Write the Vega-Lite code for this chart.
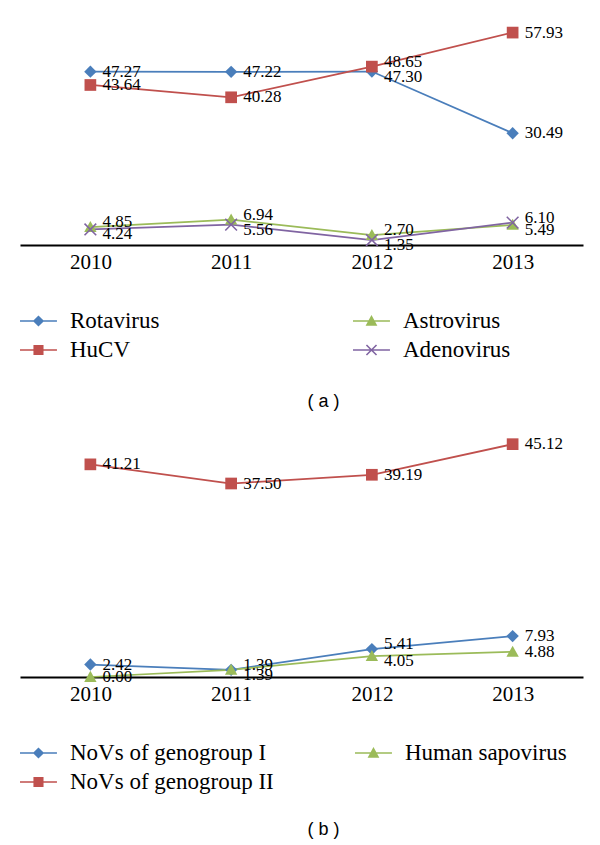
{
  "$schema": "https://vega.github.io/schema/vega-lite/v6.json",
  "background": "white",
  "padding": {"left": 20, "top": 23, "right": 17, "bottom": 0},
  "spacing": 8,
  "config": {
    "view": {"stroke": null},
    "font": "Liberation Serif",
    "axis": {"domainColor": "black", "domainWidth": 1.8, "ticks": false, "grid": false, "labelFont": "Liberation Serif", "labelFontSize": 21, "labelColor": "black", "labelPadding": 6, "labelAngle": 0, "title": null},
    "legend": {"title": null, "orient": "bottom", "columns": 2, "symbolSize": 784, "symbolOpacity": 1, "symbolStrokeWidth": 0, "labelFont": "Liberation Serif", "labelFontSize": 23, "labelColor": "black", "labelOffset": 22, "labelLimit": 300, "rowPadding": 3, "offset": 35},
    "title": {"orient": "bottom", "anchor": "middle", "font": "Liberation Sans", "fontSize": 18, "fontWeight": "normal", "color": "black", "dx": 22}
  },
  "datasets": {
    "a": [
      {"year": "2010", "series": "Rotavirus", "value": 47.27},
      {"year": "2011", "series": "Rotavirus", "value": 47.22},
      {"year": "2012", "series": "Rotavirus", "value": 47.30},
      {"year": "2013", "series": "Rotavirus", "value": 30.49},
      {"year": "2010", "series": "HuCV", "value": 43.64},
      {"year": "2011", "series": "HuCV", "value": 40.28},
      {"year": "2012", "series": "HuCV", "value": 48.65},
      {"year": "2013", "series": "HuCV", "value": 57.93},
      {"year": "2010", "series": "Astrovirus", "value": 4.85},
      {"year": "2011", "series": "Astrovirus", "value": 6.94},
      {"year": "2012", "series": "Astrovirus", "value": 2.70},
      {"year": "2013", "series": "Astrovirus", "value": 5.49},
      {"year": "2010", "series": "Adenovirus", "value": 4.24},
      {"year": "2011", "series": "Adenovirus", "value": 5.56},
      {"year": "2012", "series": "Adenovirus", "value": 1.35},
      {"year": "2013", "series": "Adenovirus", "value": 6.10}
    ],
    "b": [
      {"year": "2010", "group": "NoVs of genogroup I", "value": 2.42},
      {"year": "2011", "group": "NoVs of genogroup I", "value": 1.39},
      {"year": "2012", "group": "NoVs of genogroup I", "value": 5.41},
      {"year": "2013", "group": "NoVs of genogroup I", "value": 7.93},
      {"year": "2010", "group": "NoVs of genogroup II", "value": 41.21},
      {"year": "2011", "group": "NoVs of genogroup II", "value": 37.50},
      {"year": "2012", "group": "NoVs of genogroup II", "value": 39.19},
      {"year": "2013", "group": "NoVs of genogroup II", "value": 45.12},
      {"year": "2010", "group": "Human sapovirus", "value": 0.00},
      {"year": "2011", "group": "Human sapovirus", "value": 1.39},
      {"year": "2012", "group": "Human sapovirus", "value": 4.05},
      {"year": "2013", "group": "Human sapovirus", "value": 4.88}
    ]
  },
  "resolve": {"scale": {"color": "independent", "shape": "independent", "x": "independent", "y": "independent"}, "legend": {"color": "independent", "shape": "independent"}},
  "vconcat": [
    {
      "width": 563,
      "height": 220,
      "data": {"name": "a"},
      "title": {"text": "( a )", "offset": 31},
      "encoding": {
        "x": {"field": "year", "type": "ordinal", "scale": {"type": "point", "padding": 0.5}},
        "y": {"field": "value", "type": "quantitative", "scale": {"domain": [0, 60]}, "axis": null}
      },
      "layer": [
        {"transform": [{"filter": "datum.series === 'Rotavirus'"}], "mark": {"type": "line", "strokeWidth": 1.75, "color": "#4a7ebb"}},
        {"transform": [{"filter": "datum.series === 'HuCV'"}], "mark": {"type": "line", "strokeWidth": 1.75, "color": "#c0504d"}},
        {"transform": [{"filter": "datum.series === 'Astrovirus'"}], "mark": {"type": "line", "strokeWidth": 1.75, "color": "#9bbb59"}},
        {"transform": [{"filter": "datum.series === 'Adenovirus'"}], "mark": {"type": "line", "strokeWidth": 1.75, "color": "#8064a2"}},
        {
          "mark": {"type": "point", "filled": true, "opacity": 0, "size": 784},
          "encoding": {
            "color": {"field": "series", "type": "nominal", "scale": {"domain": ["Rotavirus", "Astrovirus", "HuCV", "Adenovirus"], "range": ["#4a7ebb", "#9bbb59", "#c0504d", "#8064a2"]}, "legend": {"columnPadding": 193}},
            "shape": {"field": "series", "type": "nominal", "scale": {"domain": ["Rotavirus", "Astrovirus", "HuCV", "Adenovirus"], "range": [
              "M-1,-0.06H1.64V0.06H-1ZM0.32,-0.4L0.72,0L0.32,0.4L-0.08,0Z",
              "M-1,-0.06H1.64V0.06H-1ZM0.32,-0.42L0.74,0.34H-0.1Z",
              "M-1,-0.06H1.64V0.06H-1ZM-0.04,-0.36H0.68V0.36H-0.04Z",
              "M-1,-0.06H1.64V0.06H-1ZM0,-0.4L0.72,0.32L0.64,0.4L-0.08,-0.32ZM0.72,-0.32L0,0.4L-0.08,0.32L0.64,-0.4Z"
            ]}, "legend": {"columnPadding": 193}}
          }
        },
        {
          "transform": [{"filter": "datum.series === 'Rotavirus'"}],
          "mark": {"type": "point", "filled": true, "size": 169, "opacity": 1, "color": "#4a7ebb", "shape": "M0,-0.95L0.95,0L0,0.95L-0.95,0Z"}
        },
        {
          "transform": [{"filter": "datum.series === 'HuCV'"}],
          "mark": {"type": "point", "filled": true, "size": 169, "opacity": 1, "color": "#c0504d", "shape": "M-0.9,-0.9H0.9V0.9H-0.9Z"}
        },
        {
          "transform": [{"filter": "datum.series === 'Astrovirus'"}],
          "mark": {"type": "point", "filled": true, "size": 169, "opacity": 1, "color": "#9bbb59", "shape": "M0,-0.95L0.95,0.75H-0.95Z"}
        },
        {
          "transform": [{"filter": "datum.series === 'Adenovirus'"}],
          "mark": {"type": "point", "filled": true, "size": 169, "opacity": 1, "color": "#8064a2", "shape": "M-0.815,-0.985L0.985,0.815L0.815,0.985L-0.985,-0.815ZM0.985,-0.815L-0.815,0.985L-0.985,0.815L0.815,-0.985Z"}
        },
        {
          "transform": [{"filter": "(datum.series === 'Astrovirus' && datum.year !== '2013') || (datum.series === 'Adenovirus' && datum.year === '2013') || (datum.series === 'HuCV' && datum.year === '2012')"}],
          "mark": {"type": "text", "align": "left", "baseline": "middle", "dx": 12, "dy": -5, "fontSize": 17, "font": "Liberation Serif", "color": "black"},
          "encoding": {"text": {"field": "value", "type": "quantitative", "format": ".2f"}}
        },
        {
          "transform": [{"filter": "(datum.series === 'Adenovirus' && datum.year !== '2013') || (datum.series === 'Astrovirus' && datum.year === '2013') || (datum.series === 'Rotavirus' && datum.year === '2012')"}],
          "mark": {"type": "text", "align": "left", "baseline": "middle", "dx": 12, "dy": 5, "fontSize": 17, "font": "Liberation Serif", "color": "black"},
          "encoding": {"text": {"field": "value", "type": "quantitative", "format": ".2f"}}
        },
        {
          "transform": [{"filter": "(datum.series === 'Rotavirus' && datum.year !== '2012') || (datum.series === 'HuCV' && datum.year !== '2012')"}],
          "mark": {"type": "text", "align": "left", "baseline": "middle", "dx": 12, "fontSize": 17, "font": "Liberation Serif", "color": "black"},
          "encoding": {"text": {"field": "value", "type": "quantitative", "format": ".2f"}}
        }
      ]
    },
    {
      "width": 563,
      "height": 258,
      "data": {"name": "b"},
      "title": {"text": "( b )", "offset": 27},
      "encoding": {
        "x": {"field": "year", "type": "ordinal", "scale": {"type": "point", "padding": 0.5}},
        "y": {"field": "value", "type": "quantitative", "scale": {"domain": [0, 50]}, "axis": null}
      },
      "layer": [
        {"transform": [{"filter": "datum.group === 'NoVs of genogroup I'"}], "mark": {"type": "line", "strokeWidth": 1.75, "color": "#4a7ebb"}},
        {"transform": [{"filter": "datum.group === 'NoVs of genogroup II'"}], "mark": {"type": "line", "strokeWidth": 1.75, "color": "#c0504d"}},
        {"transform": [{"filter": "datum.group === 'Human sapovirus'"}], "mark": {"type": "line", "strokeWidth": 1.75, "color": "#9bbb59"}},
        {
          "mark": {"type": "point", "filled": true, "opacity": 0, "size": 784},
          "encoding": {
            "color": {"field": "group", "type": "nominal", "scale": {"domain": ["NoVs of genogroup I", "Human sapovirus", "NoVs of genogroup II"], "range": ["#4a7ebb", "#9bbb59", "#c0504d"]}, "legend": {"columnPadding": 81}},
            "shape": {"field": "group", "type": "nominal", "scale": {"domain": ["NoVs of genogroup I", "Human sapovirus", "NoVs of genogroup II"], "range": [
              "M-1,-0.06H1.64V0.06H-1ZM0.32,-0.4L0.72,0L0.32,0.4L-0.08,0Z",
              "M-1,-0.06H1.64V0.06H-1ZM0.32,-0.42L0.74,0.34H-0.1Z",
              "M-1,-0.06H1.64V0.06H-1ZM-0.04,-0.36H0.68V0.36H-0.04Z"
            ]}, "legend": {"columnPadding": 81}}
          }
        },
        {
          "transform": [{"filter": "datum.group === 'NoVs of genogroup I'"}],
          "mark": {"type": "point", "filled": true, "size": 169, "opacity": 1, "color": "#4a7ebb", "shape": "M0,-0.95L0.95,0L0,0.95L-0.95,0Z"}
        },
        {
          "transform": [{"filter": "datum.group === 'NoVs of genogroup II'"}],
          "mark": {"type": "point", "filled": true, "size": 169, "opacity": 1, "color": "#c0504d", "shape": "M-0.9,-0.9H0.9V0.9H-0.9Z"}
        },
        {
          "transform": [{"filter": "datum.group === 'Human sapovirus'"}],
          "mark": {"type": "point", "filled": true, "size": 169, "opacity": 1, "color": "#9bbb59", "shape": "M0,-0.95L0.95,0.75H-0.95Z"}
        },
        {
          "transform": [{"filter": "datum.group === 'NoVs of genogroup I' && (datum.year === '2011' || datum.year === '2012')"}],
          "mark": {"type": "text", "align": "left", "baseline": "middle", "dx": 12, "dy": -5, "fontSize": 17, "font": "Liberation Serif", "color": "black"},
          "encoding": {"text": {"field": "value", "type": "quantitative", "format": ".2f"}}
        },
        {
          "transform": [{"filter": "datum.group === 'Human sapovirus' && (datum.year === '2011' || datum.year === '2012')"}],
          "mark": {"type": "text", "align": "left", "baseline": "middle", "dx": 12, "dy": 5, "fontSize": 17, "font": "Liberation Serif", "color": "black"},
          "encoding": {"text": {"field": "value", "type": "quantitative", "format": ".2f"}}
        },
        {
          "transform": [{"filter": "!((datum.group === 'NoVs of genogroup I' || datum.group === 'Human sapovirus') && (datum.year === '2011' || datum.year === '2012'))"}],
          "mark": {"type": "text", "align": "left", "baseline": "middle", "dx": 12, "fontSize": 17, "font": "Liberation Serif", "color": "black"},
          "encoding": {"text": {"field": "value", "type": "quantitative", "format": ".2f"}}
        }
      ]
    }
  ]
}
